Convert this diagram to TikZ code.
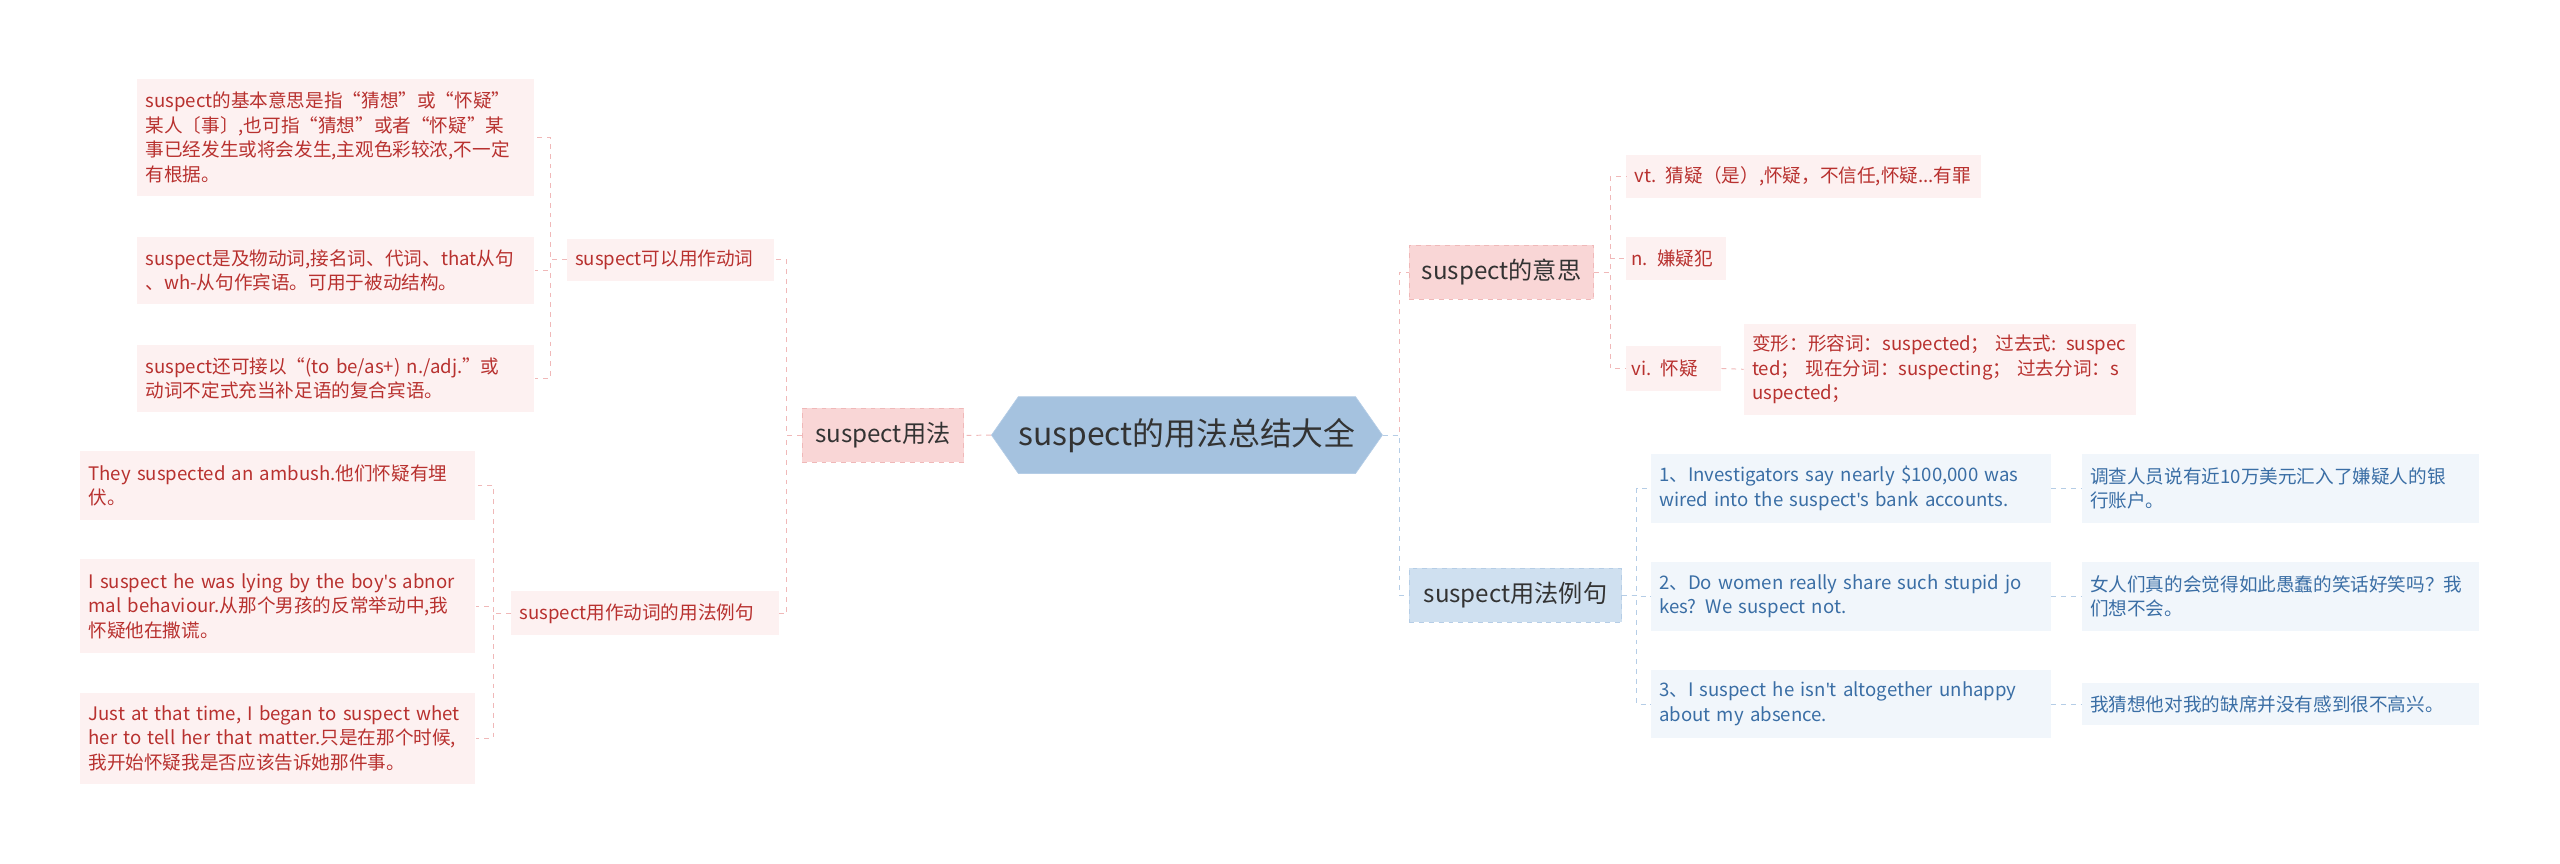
\documentclass[tikz,border=0pt]{standalone}
\usepackage{fontspec}
\setmainfont{Noto Sans CJK SC}
\newfontfamily\lat{Noto Sans}
\newcommand{\ap}{{\lat'}}
\usetikzlibrary{shapes.symbols}
\definecolor{pinkfill}{HTML}{F9D6D6}
\definecolor{pinkline}{HTML}{F0B8B8}
\definecolor{lpink}{HTML}{FDF1F1}
\definecolor{redtxt}{HTML}{B8312F}
\definecolor{bluefill}{HTML}{CFE0F0}
\definecolor{blueline}{HTML}{B5CDE6}
\definecolor{lblue}{HTML}{F1F6FB}
\definecolor{bluetxt}{HTML}{3A6EA5}
\definecolor{ctr}{HTML}{A5C2DF}
\begin{document}
\begin{tikzpicture}[x=1pt,y=-1pt,
 bx/.style n args={2}{anchor=north west,minimum width=#1,minimum height=#2,text width=#1-10pt,inner xsep=5pt,inner ysep=2pt,align=left},
 pk1/.style={fill=pinkfill,draw=pinkline,dashed,text=black!80,font=\fontsize{14.8}{17}\selectfont},
 bl1/.style={fill=bluefill,draw=blueline,dashed,text=black!80,font=\fontsize{14.8}{17}\selectfont},
 pk/.style={fill=lpink,text=redtxt,font=\fontsize{11.4}{15}\selectfont},
 bl/.style={fill=lblue,text=bluetxt,font=\fontsize{11.4}{15}\selectfont},
 pl/.style={draw=pinkline,dashed,line width=0.6pt},
 blu/.style={draw=blueline,dashed,line width=0.6pt}]
\useasboundingbox (0,0) rectangle (1568,529);
\node[signal,signal to=east and west,signal pointer angle=110,fill=ctr,draw=blueline,minimum width=230pt,minimum height=47pt,inner xsep=0pt,text=black!80,font=\fontsize{19.5}{22}\selectfont] (c) at (727,266.5) {suspect的用法总结大全};
% left
\node[bx={99pt}{33pt},pk1,align=center] (L) at (491,250) {suspect用法};
\node[bx={127pt}{26pt},pk] (A) at (347,146) {suspect可以用作动词};
\node[bx={164pt}{27pt},pk] (B) at (313,362) {suspect用作动词的用法例句};
\node[bx={243pt}{72pt},pk] (A1) at (84,48) {suspect的基本意思是指“猜想”或“怀疑”\\某人〔事〕,也可指“猜想”或者“怀疑”某\\事已经发生或将会发生,主观色彩较浓,不一定\\有根据。};
\node[bx={243pt}{41pt},pk] (A2) at (84,145) {suspect是及物动词,接名词、代词、that从句\\、wh-从句作宾语。可用于被动结构。};
\node[bx={243pt}{41pt},pk] (A3) at (84,211) {suspect还可接以“(to be/as+) n./adj.”或\\动词不定式充当补足语的复合宾语。};
\node[bx={242pt}{42pt},pk] (B1) at (49,276) {They suspected an ambush.他们怀疑有埋\\伏。};
\node[bx={242pt}{58pt},pk] (B2) at (49,342) {I suspect he was lying by the boy\ap s abnor\\mal behaviour.从那个男孩的反常举动中,我\\怀疑他在撒谎。};
\node[bx={242pt}{56pt},pk] (B3) at (49,424) {Just at that time, I began to suspect whet\\her to tell her that matter.只是在那个时候,\\我开始怀疑我是否应该告诉她那件事。};
% right
\node[bx={113pt}{33pt},pk1,align=center] (R1) at (863,150) {suspect的意思};
\node[bx={130pt}{33pt},bl1,align=center] (R2) at (863,348) {suspect用法例句};
\node[bx={217pt}{26pt},pk] (C1) at (996,95) {vt. 猜疑（是）,怀疑，不信任,怀疑...有罪};
\node[bx={57pt}{26pt},pk,inner xsep=3pt,text width=55pt] (C2) at (996,145) {n. 嫌疑犯};
\node[bx={54pt}{27pt},pk,inner xsep=3pt,text width=52pt] (C3) at (996,212) {vi. 怀疑};
\node[bx={240pt}{56pt},pk] (C4) at (1068,198) {变形：形容词：suspected； 过去式: suspec\\ted； 现在分词：suspecting； 过去分词：s\\uspected；};
\node[bx={245pt}{42pt},bl] (D1) at (1011,278) {1、Investigators say nearly \$100,000 was\\wired into the suspect\ap s bank accounts.};
\node[bx={245pt}{42pt},bl] (D2) at (1011,344) {2、Do women really share such stupid jo\\kes? We suspect not.};
\node[bx={245pt}{42pt},bl] (D3) at (1011,410) {3、I suspect he isn\ap t altogether unhappy\\about my absence.};
\node[bx={243pt}{42pt},bl] (E1) at (1275,278) {调查人员说有近10万美元汇入了嫌疑人的银\\行账户。};
\node[bx={243pt}{42pt},bl] (E2) at (1275,344) {女人们真的会觉得如此愚蠢的笑话好笑吗？我\\们想不会。};
\node[bx={243pt}{26pt},bl] (E3) at (1275,418) {我猜想他对我的缺席并没有感到很不高兴。};
% connectors
\draw[pl] (c.west) -- (L.east);
\draw[pl] (c.east) -- ++(10,0) |- (R1.west);
\draw[blu] (c.east) -- ++(10,0) |- (R2.west);
\draw[pl] (L.west) -- ++(-9,0) |- (A.east);
\draw[pl] (L.west) -- ++(-9,0) |- (B.east);
\foreach \n in {A1,A2,A3} \draw[pl] (A.west) -- ++(-10,0) |- (\n.east);
\foreach \n in {B1,B2,B3} \draw[pl] (B.west) -- ++(-11,0) |- (\n.east);
\foreach \n in {C1,C2,C3} \draw[pl] (R1.east) -- ++(10,0) |- (\n.west);
\draw[pl] (C3.east) -- (C4.west);
\foreach \n in {D1,D2,D3} \draw[blu] (R2.east) -- ++(9,0) |- (\n.west);
\draw[blu] (D1.east) -- (E1.west);
\draw[blu] (D2.east) -- (E2.west);
\draw[blu] (D3.east) -- (E3.west);
\end{tikzpicture}
\end{document}
